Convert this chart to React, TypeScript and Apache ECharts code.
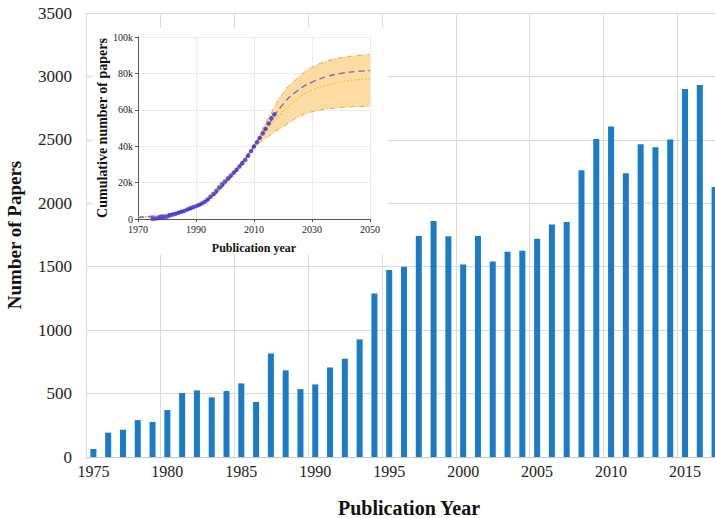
import React, { useEffect, useRef } from "react";
import * as echarts from "echarts";

// Main bar chart: papers per publication year
const years: string[] = [
  "1975","1976","1977","1978","1979","1980","1981","1982","1983","1984",
  "1985","1986","1987","1988","1989","1990","1991","1992","1993","1994",
  "1995","1996","1997","1998","1999","2000","2001","2002","2003","2004",
  "2005","2006","2007","2008","2009","2010","2011","2012","2013","2014",
  "2015","2016","2017",
];
const papers: number[] = [
  63, 192, 215, 291, 276, 370, 504, 525, 470, 520,
  580, 433, 816, 683, 535, 572, 706, 775, 927, 1289,
  1475, 1499, 1743, 1861, 1740, 1517, 1743, 1541, 1617, 1625,
  1720, 1832, 1853, 2260, 2507, 2606, 2236, 2465, 2441, 2502,
  2901, 2932, 2129,
];
const mainYTicks: number[] = [0, 500, 1000, 1500, 2000, 2500, 3000, 3500];

// Inset axis: publication years 1970..2050 (labels every 20 years)
const insetStart = 1970;
const insetEnd = 2050;
const insetTickLabels: string[] = ["1970", "1990", "2010", "2030", "2050"];

// Inset: cumulative number of papers (observed)
const cumYears: number[] = [
  1975,1976,1977,1978,1979,1980,1981,1982,1983,1984,
  1985,1986,1987,1988,1989,1990,1991,1992,1993,1994,
  1995,1996,1997,1998,1999,2000,2001,2002,2003,2004,
  2005,2006,2007,2008,2009,2010,2011,2012,2013,2014,
  2015,2016,2017,
];
const cumPapers: number[] = [
  60, 250, 470, 760, 1040, 1410, 1910, 2440, 2910, 3430,
  4010, 4440, 5260, 5940, 6470, 7050, 7750, 8530, 9450, 10740,
  12220, 13720, 15460, 17320, 19060, 20580, 22320, 23860, 25480, 27100,
  28820, 30660, 32510, 34770, 37280, 39880, 42120, 44580, 47020, 49530,
  52430, 55360, 57490,
];

// Inset: fitted / projected curves
const fitYears: number[] = [1970,1975,1980,1985,1990,1995,2000,2005,2010,2015,2020,2025,2030,2035,2040,2045,2050];
const fitMedian: number[] = [900,1500,2500,4100,6800,11600,19500,29200,40000,52000,63000,70500,75200,78200,80000,81000,81500];
const fitDotted: number[] = [900,1500,2500,4100,6800,11500,19300,28800,39500,50000,59000,66000,70800,73500,75400,76400,77000];
const fitUpper: number[] = [1000,1700,2800,4500,7300,12200,20200,30000,41000,55500,69000,77500,83200,86700,88600,89700,90400];
const fitLower: number[] = [800,1300,2300,3800,6400,11000,18800,28200,38800,45500,50700,55800,58900,60400,61300,61800,62000];

const SERIF = "'Liberation Serif', 'DejaVu Serif', serif";

export default function App() {
  const ref = useRef<HTMLDivElement>(null);

  useEffect(() => {
    if (!ref.current) return;
    const chart = echarts.init(ref.current, undefined, { renderer: "svg" });

    const insetCats: string[] = [];
    for (let y = insetStart; y <= insetEnd; y++) insetCats.push(String(y));

    const pairs = (xs: number[], ys: number[]) => xs.map((x, i) => [String(x), ys[i]]);
    const bandWidth = fitYears.map((x, i) => [String(x), fitUpper[i] - fitLower[i]]);

    const insetLabelInterval = (_i: number, v: string) => insetTickLabels.includes(v);

    const option: any = {
      animation: false,
      backgroundColor: "#ffffff",
      grid: [
        { left: 86, right: -7, top: 13, bottom: 61, containLabel: false, outerBoundsMode: "none" },
        { left: 138, right: 345, top: 37, bottom: 299, containLabel: false, outerBoundsMode: "none" },
      ],
      graphic: {
        elements: [
          {
            type: "rect",
            z: 1,
            shape: { x: 93, y: 28, width: 295, height: 227 },
            style: { fill: "#ffffff" },
          },
        ],
      },
      xAxis: [
        {
          type: "category",
          gridIndex: 0,
          data: years,
          boundaryGap: true,
          axisLine: { show: true, lineStyle: { color: "#c8c8c8", width: 1 } },
          axisTick: { show: false },
          axisLabel: {
            interval: 4,
            color: "#222",
            fontFamily: SERIF,
            fontSize: 16,
            margin: 6,
          },
          splitLine: { show: true, interval: 4, lineStyle: { color: "#dadada", width: 1 } },
          name: "Publication Year",
          nameLocation: "middle",
          nameGap: 41,
          nameTextStyle: {
            fontFamily: SERIF,
            fontSize: 20,
            fontWeight: "bold",
            color: "#111",
            padding: [0, 0, 0, 10],
          },
        },
        {
          type: "category",
          gridIndex: 1,
          data: insetCats,
          boundaryGap: false,
          z: 3,
          axisLine: { show: true, lineStyle: { color: "#555", width: 1 } },
          axisTick: { show: true, length: 3, interval: insetLabelInterval, lineStyle: { color: "#555" } },
          axisLabel: {
            interval: insetLabelInterval,
            color: "#222",
            fontFamily: SERIF,
            fontSize: 10,
            margin: 5,
          },
          splitLine: { show: true, interval: insetLabelInterval, lineStyle: { color: "#ececec", width: 1 } },
          name: "Publication year",
          nameLocation: "middle",
          nameGap: 23,
          nameTextStyle: { fontFamily: SERIF, fontSize: 12, fontWeight: "bold", color: "#111" },
        },
      ],
      yAxis: [
        {
          type: "value",
          gridIndex: 0,
          min: 0,
          max: 3500,
          interval: 500,
          axisLine: { show: false },
          axisTick: { show: false },
          axisLabel: {
            color: "#222",
            fontFamily: SERIF,
            fontSize: 17,
            margin: 14,
            formatter: (v: number) => (mainYTicks.includes(v) ? String(v) : ""),
          },
          splitLine: { show: true, lineStyle: { color: "#dadada", width: 1 } },
          name: "Number of Papers",
          nameLocation: "middle",
          nameGap: 62,
          nameTextStyle: { fontFamily: SERIF, fontSize: 19, fontWeight: "bold", color: "#111" },
        },
        {
          type: "value",
          gridIndex: 1,
          min: 0,
          max: 100000,
          interval: 20000,
          z: 3,
          axisLine: { show: true, lineStyle: { color: "#555", width: 1 } },
          axisTick: { show: true, length: 3, lineStyle: { color: "#555" } },
          axisLabel: {
            color: "#222",
            fontFamily: SERIF,
            fontSize: 10,
            margin: 5,
            formatter: (v: number) => (v === 0 ? "0" : v / 1000 + "k"),
          },
          splitLine: { show: true, lineStyle: { color: "#ececec", width: 1 } },
          name: "Cumulative number of papers",
          nameLocation: "middle",
          nameGap: 26,
          nameTextStyle: { fontFamily: SERIF, fontSize: 14, fontWeight: "bold", color: "#111" },
        },
      ],
      series: [
        {
          type: "bar",
          name: "Number of Papers",
          xAxisIndex: 0,
          yAxisIndex: 0,
          data: papers,
          barWidth: 6,
          itemStyle: { color: "#1a7bc6" },
        },
        {
          type: "line",
          name: "lower",
          xAxisIndex: 1,
          yAxisIndex: 1,
          z: 4,
          stack: "band",
          data: pairs(fitYears, fitLower),
          symbol: "none",
          smooth: true,
          lineStyle: { opacity: 0 },
        },
        {
          type: "line",
          name: "band",
          xAxisIndex: 1,
          yAxisIndex: 1,
          z: 4,
          stack: "band",
          data: bandWidth,
          symbol: "none",
          smooth: true,
          lineStyle: { opacity: 0 },
          areaStyle: { color: "#fddca3", opacity: 1 },
        },
        {
          type: "line",
          name: "upper",
          xAxisIndex: 1,
          yAxisIndex: 1,
          z: 5,
          data: pairs(fitYears, fitUpper),
          symbol: "none",
          smooth: true,
          lineStyle: { color: "#e2aa35", width: 1, type: [5, 2, 1, 2] },
        },
        {
          type: "line",
          name: "lowerLine",
          xAxisIndex: 1,
          yAxisIndex: 1,
          z: 5,
          data: pairs(fitYears, fitLower),
          symbol: "none",
          smooth: true,
          lineStyle: { color: "#e2aa35", width: 1, type: [5, 2, 1, 2] },
        },
        {
          type: "line",
          name: "dotted",
          xAxisIndex: 1,
          yAxisIndex: 1,
          z: 5,
          data: pairs(fitYears, fitDotted),
          symbol: "none",
          smooth: true,
          lineStyle: { color: "#efb840", width: 1.2, type: [1.5, 2] },
        },
        {
          type: "line",
          name: "median",
          xAxisIndex: 1,
          yAxisIndex: 1,
          z: 6,
          data: pairs(fitYears, fitMedian),
          symbol: "none",
          smooth: true,
          lineStyle: { color: "#8467a6", width: 1.4, type: [6, 4] },
        },
        {
          type: "scatter",
          name: "observed",
          xAxisIndex: 1,
          yAxisIndex: 1,
          z: 7,
          data: pairs(cumYears, cumPapers),
          symbolSize: 4.5,
          itemStyle: { color: "#3b2ed8" },
        },
      ],
    };

    chart.setOption(option);
    return () => chart.dispose();
  }, []);

  return (
    <div
      ref={ref}
      style={{ position: "fixed", left: 0, top: 0, width: 715, height: 518, overflow: "hidden" }}
    />
  );
}
